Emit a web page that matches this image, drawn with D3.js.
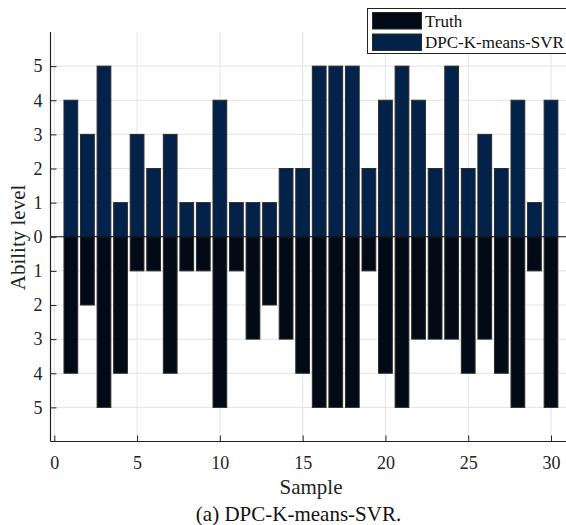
<!DOCTYPE html>
<html>
<head>
<meta charset="utf-8">
<script src="https://cdn.jsdelivr.net/npm/d3@7"></script>
<style>
  html, body { margin: 0; padding: 0; background: #fff; }
  svg { display: block; }
  svg text { font-family: "Liberation Serif", "Times New Roman", Times, "DejaVu Serif", serif !important; }
</style>
</head>
<body>
<svg id="chart" width="566" height="525"></svg>
<script>
// Sample indices and ability levels (predicted drawn upward, truth drawn downward)
const samples = d3.range(1, 31);
const predicted = [4, 3, 5, 1, 3, 2, 3, 1, 1, 4, 1, 1, 1, 2, 2, 5, 5, 5, 2, 4, 5, 4, 2, 5, 2, 3, 2, 4, 1, 4];
const truth     = [4, 2, 5, 4, 1, 1, 4, 1, 1, 5, 1, 3, 2, 3, 4, 5, 5, 5, 1, 4, 5, 3, 3, 3, 4, 3, 4, 5, 1, 5];
const xTicks = [0, 5, 10, 15, 20, 25, 30];
const yTicks = [-5, -4, -3, -2, -1, 0, 1, 2, 3, 4, 5];
const seriesNames = ["Truth", "DPC-K-means-SVR"];
const seriesColors = ["#020a16", "#022249"];

const svg = d3.select("#chart");
const plotLeft = 50.5, plotRight = 566, plotTop = 32, plotBottom = 441.5;

const x = d3.scaleLinear().domain([0, 30]).range([54.3, 551]);
const y = d3.scaleLinear().domain([-6, 6]).range([plotBottom, plotTop]);
const barW = x(0.83) - x(0);

// grid
const grid = svg.append("g").attr("stroke", "#e3e3e3").attr("stroke-width", 1);
grid.selectAll("line.gx").data(xTicks).join("line").attr("class", "gx")
  .attr("x1", d => x(d)).attr("x2", d => x(d)).attr("y1", plotTop).attr("y2", plotBottom);
grid.selectAll("line.gy").data(yTicks).join("line").attr("class", "gy")
  .attr("x1", plotLeft).attr("x2", plotRight).attr("y1", d => y(d)).attr("y2", d => y(d));

// bars
const bars = svg.append("g").attr("stroke", "#2a2a2a").attr("stroke-width", 1);
bars.selectAll("rect.truth").data(samples).join("rect")
  .attr("class", "truth")
  .attr("x", d => x(d) - barW / 2)
  .attr("width", barW)
  .attr("y", y(0))
  .attr("height", (d, i) => y(-truth[i]) - y(0))
  .attr("fill", seriesColors[0]);
bars.selectAll("rect.pred").data(samples).join("rect")
  .attr("class", "pred")
  .attr("x", d => x(d) - barW / 2)
  .attr("width", barW)
  .attr("y", (d, i) => y(predicted[i]))
  .attr("height", (d, i) => y(0) - y(predicted[i]))
  .attr("fill", seriesColors[1]);

// zero baseline
svg.append("line")
  .attr("x1", plotLeft).attr("x2", plotRight).attr("y1", y(0)).attr("y2", y(0))
  .attr("stroke", "#111").attr("stroke-width", 1.2);

// axes
const yAxis = d3.axisLeft(y).tickValues(yTicks).tickFormat(d => Math.abs(d))
  .tickSizeInner(-6).tickSizeOuter(0).tickPadding(8);
const gy = svg.append("g").attr("transform", `translate(${plotLeft},0)`).call(yAxis);
gy.attr("font-family", null).attr("font-size", 18);
gy.select(".domain").attr("stroke", "#222").attr("stroke-width", 1.2)
  .attr("d", `M0,${plotTop}V${plotBottom}`);
gy.selectAll(".tick line").attr("stroke", "#222");
gy.selectAll(".tick text").attr("fill", "#222");

const xAxis = d3.axisBottom(x).tickValues(xTicks).tickSizeInner(-6).tickSizeOuter(0).tickPadding(15);
const gx = svg.append("g").attr("transform", `translate(0,${plotBottom})`).call(xAxis);
gx.attr("font-family", null).attr("font-size", 18);
gx.select(".domain").attr("stroke", "#222").attr("stroke-width", 1.2)
  .attr("d", `M${plotLeft},0H${plotRight}`);
gx.selectAll(".tick line").attr("stroke", "#222");
gx.selectAll(".tick text").attr("fill", "#222");

// axis titles
svg.append("text")
  .attr("transform", "translate(25,237.5) rotate(-90)")
  .attr("text-anchor", "middle").attr("font-size", 21).attr("fill", "#222")
  .text("Ability level");
svg.append("text")
  .attr("x", 311).attr("y", 494).attr("text-anchor", "middle")
  .attr("font-size", 21).attr("fill", "#222").text("Sample");
svg.append("text")
  .attr("x", 298.5).attr("y", 521).attr("text-anchor", "middle")
  .attr("font-size", 21).attr("fill", "#111").text("(a) DPC-K-means-SVR.");

// legend
const lg = svg.append("g");
lg.append("rect").attr("x", 367.5).attr("y", 8.5).attr("width", 210).attr("height", 45)
  .attr("fill", "#fff").attr("stroke", "#222").attr("stroke-width", 1);
seriesNames.forEach((name, i) => {
  const yy = 12.5 + i * 21.5;
  lg.append("rect").attr("x", 372.5).attr("y", yy).attr("width", 49).attr("height", 16.5)
    .attr("fill", seriesColors[i]).attr("stroke", "#2a2a2a").attr("stroke-width", 1);
  lg.append("text").attr("x", 425).attr("y", yy + 14).attr("font-size", 17)
    .attr("fill", "#111").text(name);
});
</script>
</body>
</html>
